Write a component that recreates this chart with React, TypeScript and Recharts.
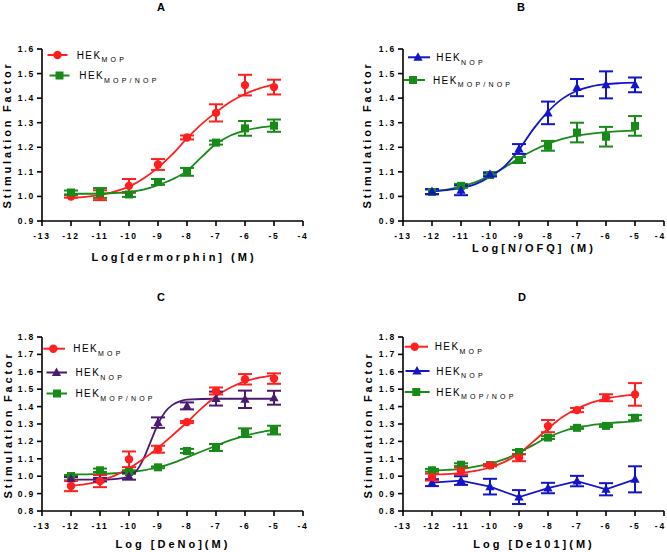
import React from 'react';
import { ComposedChart, Line, Scatter, XAxis, YAxis, ErrorBar } from 'recharts';

const FONT = '"Liberation Sans", Arial, sans-serif';

const RED = '#ff1f1f';
const GREEN = '#178a17';
const BLUE = '#1414c8';
const PURPLE = '#4a1a70';

// log concentrations of the measured points
const doses = [-12, -11, -10, -9, -8, -7, -6, -5];
const fitX = [-12, -11.5, -11, -10.5, -10, -9.5, -9, -8.5, -8, -7.5, -7, -6.5, -6, -5.5, -5];
const fitXSteep = [-12, -11, -10.5, -10, -9.75, -9.5, -9.25, -9, -8.75, -8.5, -8.25, -8, -7, -6, -5];

const xTicks = [-13, -12, -11, -10, -9, -8, -7, -6, -5, -4];
const yTicksAB = [0.9, 1.0, 1.1, 1.2, 1.3, 1.4, 1.5, 1.6];
const yTicksCD = [0.8, 0.9, 1.0, 1.1, 1.2, 1.3, 1.4, 1.5, 1.6, 1.7, 1.8];

// A: dermorphin
const aMop = [1.0, 1.005, 1.043, 1.13, 1.24, 1.34, 1.453, 1.445];
const aMopErr = [0.005, 0.02, 0.028, 0.022, 0.008, 0.035, 0.042, 0.03];
const aMix = [1.016, 1.014, 1.008, 1.059, 1.1, 1.219, 1.277, 1.288];
const aMixErr = [0.008, 0.02, 0.01, 0.012, 0.016, 0.008, 0.03, 0.025];
const aMopFit = [0.994, 0.998, 1.006, 1.02, 1.04, 1.073, 1.117, 1.172, 1.236, 1.294, 1.342, 1.385, 1.417, 1.44, 1.455];
const aMixFit = [1.011, 1.011, 1.012, 1.014, 1.018, 1.028, 1.046, 1.07, 1.104, 1.16, 1.213, 1.248, 1.268, 1.28, 1.286];

// B: N/OFQ
const bNop = [1.02, 1.025, 1.09, 1.193, 1.34, 1.443, 1.454, 1.454];
const bNopErr = [0.01, 0.02, 0.008, 0.02, 0.046, 0.035, 0.055, 0.03];
const bMix = [1.018, 1.043, 1.087, 1.148, 1.206, 1.26, 1.243, 1.287];
const bMixErr = [0.01, 0.008, 0.005, 0.012, 0.02, 0.04, 0.04, 0.04];
const bNopFit = [1.021, 1.026, 1.034, 1.05, 1.08, 1.122, 1.19, 1.275, 1.345, 1.398, 1.43, 1.448, 1.457, 1.461, 1.463];
const bMixFit = [1.021, 1.028, 1.04, 1.058, 1.085, 1.118, 1.155, 1.188, 1.214, 1.234, 1.247, 1.256, 1.262, 1.266, 1.268];

// C: DeNo
const cMop = [0.944, 0.972, 1.097, 1.155, 1.311, 1.49, 1.557, 1.561];
const cMopErr = [0.03, 0.035, 0.045, 0.02, 0.006, 0.02, 0.03, 0.03];
const cNop = [0.985, 0.98, 1.0, 1.308, 1.404, 1.446, 1.442, 1.451];
const cNopErr = [0.01, 0.01, 0.02, 0.03, 0.02, 0.04, 0.05, 0.04];
const cMix = [1.001, 1.034, 1.024, 1.051, 1.145, 1.165, 1.25, 1.265];
const cMixErr = [0.006, 0.01, 0.01, 0.005, 0.012, 0.02, 0.025, 0.025];
const cMopFit = [0.946, 0.955, 0.972, 1.003, 1.045, 1.1, 1.163, 1.235, 1.31, 1.39, 1.46, 1.51, 1.545, 1.567, 1.58];
const cNopFit = [0.98, 0.98, 0.983, 0.997, 1.03, 1.1, 1.2, 1.3, 1.37, 1.41, 1.43, 1.44, 1.445, 1.445, 1.445];
const cMixFit = [1.01, 1.011, 1.013, 1.017, 1.023, 1.034, 1.05, 1.075, 1.108, 1.142, 1.175, 1.207, 1.232, 1.252, 1.266];

// D: De101
const dMop = [0.995, 1.03, 1.062, 1.106, 1.288, 1.38, 1.451, 1.47];
const dMopErr = [0.02, 0.02, 0.006, 0.02, 0.035, 0.012, 0.02, 0.065];
const dNop = [0.963, 0.975, 0.94, 0.88, 0.932, 0.972, 0.925, 0.982];
const dNopErr = [0.02, 0.025, 0.045, 0.04, 0.03, 0.03, 0.035, 0.075];
const dMix = [1.034, 1.066, 1.064, 1.139, 1.222, 1.278, 1.289, 1.336];
const dMixErr = [0.008, 0.008, 0.005, 0.012, 0.008, 0.006, 0.006, 0.015];
const dMopFit = [1.01, 1.012, 1.018, 1.03, 1.05, 1.082, 1.13, 1.2, 1.273, 1.34, 1.388, 1.423, 1.446, 1.46, 1.467];
const dMixFit = [1.032, 1.036, 1.042, 1.055, 1.072, 1.098, 1.135, 1.18, 1.224, 1.257, 1.28, 1.294, 1.303, 1.31, 1.315];

type Pt = { x: number; y: number; err: number };
type Shape = 'circle' | 'square' | 'triangle';
type Series = { name: string; color: string; shape: Shape; points: Pt[]; fit: Pt[]; linear?: boolean };

const table = (xs: number[], ys: number[], errs?: number[]): Pt[] =>
  xs.map((x, i) => ({ x, y: ys[i], err: errs ? errs[i] : 0 }));

function Marker({ cx, cy, shape, color }: { cx: number; cy: number; shape: Shape; color: string }) {
  if (shape === 'circle') return <circle cx={cx} cy={cy} r={4.2} fill={color} />;
  if (shape === 'square') return <rect x={cx - 4} y={cy - 4} width={8} height={8} fill={color} />;
  return <polygon points={`${cx},${cy - 5} ${cx + 4.6},${cy + 3.5} ${cx - 4.6},${cy + 3.5}`} fill={color} />;
}

const axisStroke = { stroke: '#000', strokeWidth: 1.6 };
const tickStyle = { fontSize: 8.5, fontWeight: 700, fill: '#000', fontFamily: FONT, letterSpacing: 1.8 };

// x tick text; the last label is pulled inside when it would run past the chart edge
function makeXTick(chartWidth: number) {
  return (p: any) => {
    const nearEdge = p.x + 6 > chartWidth;
    return (
      <text
        x={nearEdge ? chartWidth - 1 : p.x}
        y={p.y}
        dy="0.71em"
        textAnchor={nearEdge ? 'end' : 'middle'}
        {...tickStyle}
      >
        {p.payload.value}
      </text>
    );
  };
}

function Panel({ left, top, width, height, margin, yTicks, series }: {
  left: number; top: number; width: number; height: number;
  margin: { top: number; right: number; bottom: number; left: number };
  yTicks: number[]; series: Series[];
}) {
  return (
    <div style={{ position: 'absolute', left, top }}>
      <ComposedChart width={width} height={height} margin={margin}>
        <XAxis
          type="number"
          dataKey="x"
          domain={[-13, -4]}
          ticks={xTicks}
          interval={0}
          height={30}
          tickSize={5}
          tickMargin={7}
          axisLine={axisStroke}
          tickLine={axisStroke}
          tick={makeXTick(width)}
        />
        <YAxis
          type="number"
          dataKey="y"
          domain={[yTicks[0], yTicks[yTicks.length - 1]]}
          ticks={yTicks}
          interval={0}
          width={42}
          tickSize={5}
          tickMargin={2}
          tickFormatter={(v: number) => v.toFixed(1)}
          axisLine={axisStroke}
          tickLine={axisStroke}
          tick={tickStyle}
        />
        {series.map((s) => (
          <Line
            key={`fit-${s.name}`}
            data={s.fit}
            dataKey="y"
            type={s.linear ? 'linear' : 'monotone'}
            stroke={s.color}
            strokeWidth={1.8}
            dot={false}
            isAnimationActive={false}
          />
        ))}
        {series.map((s) => (
          <Scatter
            key={`pts-${s.name}`}
            data={s.points}
            fill={s.color}
            isAnimationActive={false}
            shape={(p: any) => <Marker cx={p.cx} cy={p.cy} shape={s.shape} color={s.color} />}
          >
            <ErrorBar dataKey="err" direction="y" width={7} strokeWidth={2} stroke={s.color} />
          </Scatter>
        ))}
      </ComposedChart>
    </div>
  );
}

function LegendRow({ x1, x2, mx, y, tx, shape, color, sub }: {
  x1: number; x2: number; mx: number; y: number; tx: number; shape: Shape; color: string; sub: string;
}) {
  return (
    <g>
      <line x1={x1} x2={x2} y1={y} y2={y} stroke={color} strokeWidth={2} />
      <Marker cx={mx} cy={y} shape={shape} color={color} />
      <text x={tx} y={y + 3.6} fontSize={10} fontFamily={FONT} letterSpacing={1.4} fill="#000">
        HEK
        <tspan fontSize={7} dy={3.6} letterSpacing={3.2}>{sub}</tspan>
      </text>
    </g>
  );
}

const titleStyle = { fontSize: 11, fontWeight: 700, fontFamily: FONT, fill: '#000' };
const labelStyle = { fontSize: 11, fontWeight: 700, fontFamily: FONT, fill: '#000', letterSpacing: 3 };
const yLabelStyle = { fontSize: 11, fontWeight: 700, fontFamily: FONT, fill: '#000', letterSpacing: 2.8 };

export default function App() {
  const panelA: Series[] = [
    { name: 'mop', color: RED, shape: 'circle', points: table(doses, aMop, aMopErr), fit: table(fitX, aMopFit) },
    { name: 'mix', color: GREEN, shape: 'square', points: table(doses, aMix, aMixErr), fit: table(fitX, aMixFit) },
  ];
  const panelB: Series[] = [
    { name: 'mix', color: GREEN, shape: 'square', points: table(doses, bMix, bMixErr), fit: table(fitX, bMixFit) },
    { name: 'nop', color: BLUE, shape: 'triangle', points: table(doses, bNop, bNopErr), fit: table(fitX, bNopFit) },
  ];
  const panelC: Series[] = [
    { name: 'mix', color: GREEN, shape: 'square', points: table(doses, cMix, cMixErr), fit: table(fitX, cMixFit) },
    { name: 'nop', color: PURPLE, shape: 'triangle', points: table(doses, cNop, cNopErr), fit: table(fitXSteep, cNopFit) },
    { name: 'mop', color: RED, shape: 'circle', points: table(doses, cMop, cMopErr), fit: table(fitX, cMopFit) },
  ];
  const panelD: Series[] = [
    { name: 'nop', color: BLUE, shape: 'triangle', points: table(doses, dNop, dNopErr), fit: table(doses, dNop), linear: true },
    { name: 'mix', color: GREEN, shape: 'square', points: table(doses, dMix, dMixErr), fit: table(fitX, dMixFit) },
    { name: 'mop', color: RED, shape: 'circle', points: table(doses, dMop, dMopErr), fit: table(fitX, dMopFit) },
  ];

  return (
    <div style={{ position: 'absolute', left: 0, top: 0, width: 667, height: 552, background: '#fff', overflow: 'hidden' }}>
      <Panel left={0} top={0} width={333} height={276} margin={{ top: 49, right: 30, bottom: 25, left: 0 }} yTicks={yTicksAB} series={panelA} />
      <Panel left={333} top={0} width={334} height={276} margin={{ top: 49, right: 3, bottom: 25, left: 28 }} yTicks={yTicksAB} series={panelB} />
      <Panel left={0} top={276} width={333} height={276} margin={{ top: 61, right: 30, bottom: 11, left: 0 }} yTicks={yTicksCD} series={panelC} />
      <Panel left={333} top={276} width={334} height={276} margin={{ top: 61, right: 3, bottom: 11, left: 28 }} yTicks={yTicksCD} series={panelD} />

      <svg width={667} height={552} style={{ position: 'absolute', left: 0, top: 0, pointerEvents: 'none' }}>
        <text x={161} y={11} textAnchor="middle" {...titleStyle}>A</text>
        <text x={521} y={11} textAnchor="middle" {...titleStyle}>B</text>
        <text x={161} y={301} textAnchor="middle" {...titleStyle}>C</text>
        <text x={522} y={301} textAnchor="middle" {...titleStyle}>D</text>

        <text x={174} y={261} textAnchor="middle" {...labelStyle}>Log[dermorphin] (M)</text>
        <text x={534} y={252} textAnchor="middle" {...labelStyle}>Log[N/OFQ] (M)</text>
        <text x={173} y={548} textAnchor="middle" {...labelStyle}>Log [DeNo](M)</text>
        <text x={534} y={548} textAnchor="middle" {...labelStyle}>Log [De101](M)</text>

        <text transform="translate(11,135) rotate(-90)" textAnchor="middle" {...yLabelStyle}>Stimulation Factor</text>
        <text transform="translate(371,135) rotate(-90)" textAnchor="middle" {...yLabelStyle}>Stimulation Factor</text>
        <text transform="translate(12,425) rotate(-90)" textAnchor="middle" {...yLabelStyle}>Stimulation Factor</text>
        <text transform="translate(372,425) rotate(-90)" textAnchor="middle" {...yLabelStyle}>Stimulation Factor</text>

        <LegendRow x1={47.5} x2={67.5} mx={57.5} y={55} tx={76.7} shape="circle" color={RED} sub="MOP" />
        <LegendRow x1={49.5} x2={69.5} mx={59.5} y={75.5} tx={79.3} shape="square" color={GREEN} sub="MOP/NOP" />

        <LegendRow x1={408} x2={430} mx={418} y={57.3} tx={436.3} shape="triangle" color={BLUE} sub="NOP" />
        <LegendRow x1={404} x2={425} mx={413} y={80} tx={433} shape="square" color={GREEN} sub="MOP/NOP" />

        <LegendRow x1={43.3} x2={65} mx={53.3} y={348.7} tx={73.3} shape="circle" color={RED} sub="MOP" />
        <LegendRow x1={46.5} x2={67} mx={56.5} y={372.5} tx={75.5} shape="triangle" color={PURPLE} sub="NOP" />
        <LegendRow x1={46.5} x2={67} mx={57} y={393.5} tx={75.5} shape="square" color={GREEN} sub="MOP/NOP" />

        <LegendRow x1={404.7} x2={428} mx={414.7} y={346.7} tx={434.7} shape="circle" color={RED} sub="MOP" />
        <LegendRow x1={405.5} x2={429.5} mx={417} y={371} tx={436.3} shape="triangle" color={BLUE} sub="NOP" />
        <LegendRow x1={404.7} x2={429.7} mx={416.3} y={392} tx={436.3} shape="square" color={GREEN} sub="MOP/NOP" />
      </svg>
    </div>
  );
}
